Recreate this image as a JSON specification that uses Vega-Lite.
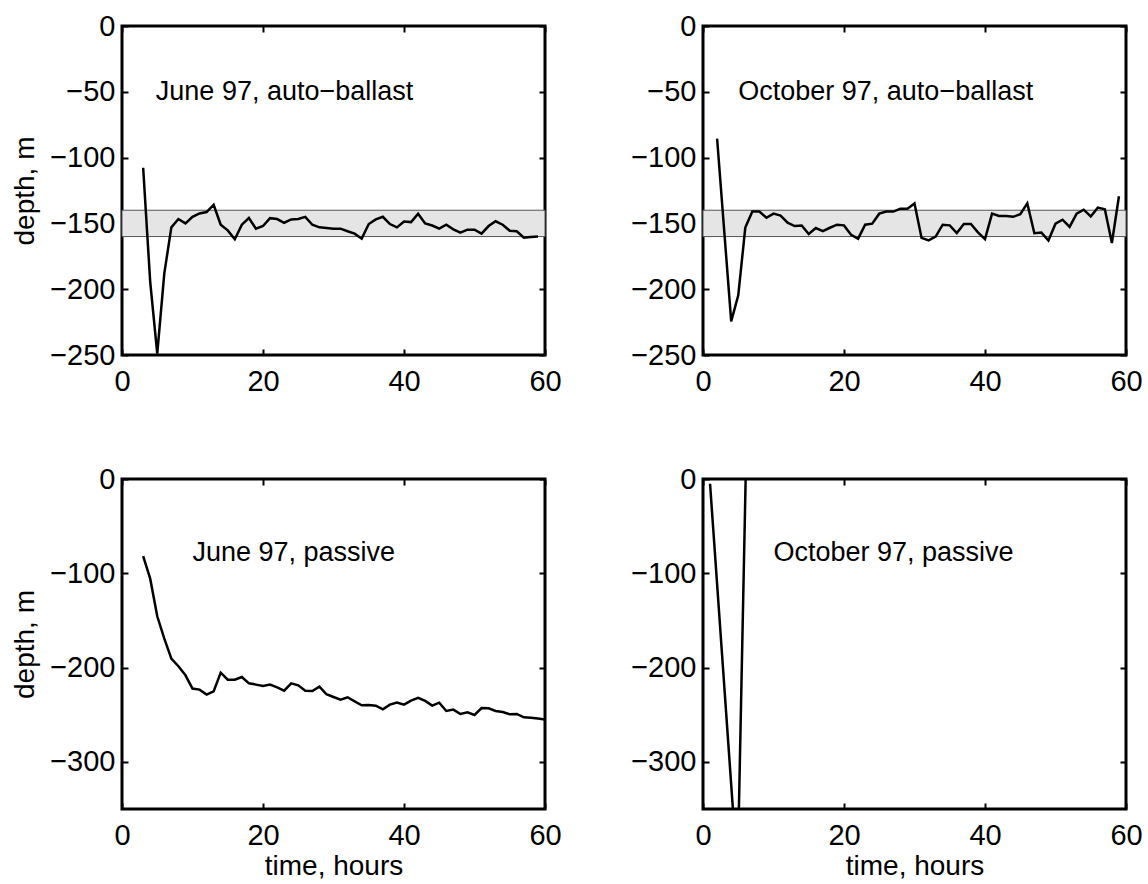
{
  "$schema": "https://vega.github.io/schema/vega-lite/v6.json",
  "background": "white",
  "padding": {"left": 10, "top": 10, "right": 5, "bottom": 5},
  "datasets": {
    "ja": [
      {"t":3,"d":-107.7},{"t":4,"d":-194.5},{"t":5,"d":-249},{"t":6,"d":-188},{"t":7,"d":-153},{"t":8,"d":-146.7},{"t":9,"d":-150},{"t":10,"d":-145},{"t":11,"d":-142.4},{"t":12,"d":-141.4},{"t":13,"d":-135.8},{"t":14,"d":-151},{"t":15,"d":-155.3},{"t":16,"d":-162},{"t":17,"d":-151},{"t":18,"d":-145.9},{"t":19,"d":-154},{"t":20,"d":-152},{"t":21,"d":-146},{"t":22,"d":-146.7},{"t":23,"d":-149.5},{"t":24,"d":-147},{"t":25,"d":-146.7},{"t":26,"d":-145},{"t":27,"d":-151},{"t":28,"d":-153},{"t":29,"d":-153.5},{"t":30,"d":-154},{"t":31,"d":-154},{"t":32,"d":-156},{"t":33,"d":-157.8},{"t":34,"d":-161.6},{"t":35,"d":-150.5},{"t":36,"d":-147},{"t":37,"d":-145},{"t":38,"d":-150.5},{"t":39,"d":-153},{"t":40,"d":-148.5},{"t":41,"d":-149},{"t":42,"d":-142.6},{"t":43,"d":-150},{"t":44,"d":-151.6},{"t":45,"d":-154},{"t":46,"d":-151},{"t":47,"d":-154.5},{"t":48,"d":-157},{"t":49,"d":-154.8},{"t":50,"d":-154.8},{"t":51,"d":-157.8},{"t":52,"d":-152},{"t":53,"d":-148.4},{"t":54,"d":-151},{"t":55,"d":-155.6},{"t":56,"d":-156},{"t":57,"d":-160.8},{"t":58,"d":-160.4},{"t":59,"d":-160}
    ],
    "oa": [
      {"t":2,"d":-85.6},{"t":3,"d":-155},{"t":4,"d":-224.4},{"t":5,"d":-204.7},{"t":6,"d":-153.2},{"t":7,"d":-141},{"t":8,"d":-141},{"t":9,"d":-145.7},{"t":10,"d":-142.6},{"t":11,"d":-144},{"t":12,"d":-149.5},{"t":13,"d":-152},{"t":14,"d":-151.6},{"t":15,"d":-158},{"t":16,"d":-153.5},{"t":17,"d":-155.8},{"t":18,"d":-153.3},{"t":19,"d":-151},{"t":20,"d":-151.5},{"t":21,"d":-158.6},{"t":22,"d":-161.6},{"t":23,"d":-151},{"t":24,"d":-150.2},{"t":25,"d":-142.6},{"t":26,"d":-141},{"t":27,"d":-141},{"t":28,"d":-138.8},{"t":29,"d":-138.8},{"t":30,"d":-134.8},{"t":31,"d":-161},{"t":32,"d":-162.9},{"t":33,"d":-160},{"t":34,"d":-151},{"t":35,"d":-151.5},{"t":36,"d":-157.3},{"t":37,"d":-150.5},{"t":38,"d":-150.5},{"t":39,"d":-156.8},{"t":40,"d":-162},{"t":41,"d":-142.6},{"t":42,"d":-144.4},{"t":43,"d":-144.4},{"t":44,"d":-145},{"t":45,"d":-143},{"t":46,"d":-134.8},{"t":47,"d":-157.5},{"t":48,"d":-157},{"t":49,"d":-163},{"t":50,"d":-150.2},{"t":51,"d":-147.2},{"t":52,"d":-152.7},{"t":53,"d":-142.6},{"t":54,"d":-139.6},{"t":55,"d":-144.7},{"t":56,"d":-138},{"t":57,"d":-139.3},{"t":58,"d":-164.9},{"t":59,"d":-129.4}
    ],
    "jp": [
      {"t":3,"d":-81.7},{"t":4,"d":-105.7},{"t":5,"d":-145.6},{"t":6,"d":-169.3},{"t":7,"d":-190.5},{"t":8,"d":-198.6},{"t":9,"d":-208.2},{"t":10,"d":-222.3},{"t":11,"d":-223.4},{"t":12,"d":-228.7},{"t":13,"d":-225.2},{"t":14,"d":-205.4},{"t":15,"d":-212.8},{"t":16,"d":-212.8},{"t":17,"d":-210},{"t":18,"d":-216.7},{"t":19,"d":-218.1},{"t":20,"d":-219.5},{"t":21,"d":-218.1},{"t":22,"d":-221},{"t":23,"d":-224.5},{"t":24,"d":-216.7},{"t":25,"d":-218.8},{"t":26,"d":-224.5},{"t":27,"d":-224.8},{"t":28,"d":-220.2},{"t":29,"d":-228.3},{"t":30,"d":-231.2},{"t":31,"d":-234},{"t":32,"d":-231.5},{"t":33,"d":-235.8},{"t":34,"d":-240},{"t":35,"d":-239.6},{"t":36,"d":-240.4},{"t":37,"d":-244.3},{"t":38,"d":-239.3},{"t":39,"d":-237.2},{"t":40,"d":-239.3},{"t":41,"d":-235},{"t":42,"d":-232.2},{"t":43,"d":-235.4},{"t":44,"d":-240.4},{"t":45,"d":-237.2},{"t":46,"d":-246},{"t":47,"d":-244.6},{"t":48,"d":-249.2},{"t":49,"d":-247.5},{"t":50,"d":-250.3},{"t":51,"d":-242.9},{"t":52,"d":-243.2},{"t":53,"d":-246},{"t":54,"d":-247.1},{"t":55,"d":-249.6},{"t":56,"d":-249.2},{"t":57,"d":-252.8},{"t":58,"d":-253.1},{"t":59,"d":-254.1},{"t":60,"d":-255}
    ],
    "op": [
      {"t":1,"d":-5},{"t":4.9,"d":-420},{"t":6.05,"d":0}
    ],
    "band": [
      {"t0":0,"t1":60,"lo":-160,"hi":-140}
    ],
    "one": [{}]
  },
  "columns": 2,
  "spacing": {"row": 124, "column": 158},
  "bounds": "flush",
  "concat": [
    {
      "width": 423, "height": 329,
      "layer": [
        {"data": {"name": "band"}, "mark": {"type": "rect", "fill": "#e5e5e5", "stroke": "#555555", "strokeWidth": 1},
         "encoding": {"x": {"field": "t0", "type": "quantitative", "axis": null, "scale": {"domain": [0, 60], "nice": false}}, "x2": {"field": "t1"},
                      "y": {"field": "lo", "type": "quantitative", "axis": null, "scale": {"domain": [-250, 0], "nice": false}}, "y2": {"field": "hi"}}},
        {"data": {"name": "ja"}, "mark": {"type": "line", "color": "black", "strokeWidth": 2.5, "clip": true},
         "encoding": {"x": {"field": "t", "type": "quantitative", "scale": {"domain": [0, 60], "nice": false}, "axis": {"values": [0, 20, 40, 60], "title": null}},
                      "y": {"field": "d", "type": "quantitative", "scale": {"domain": [-250, 0], "nice": false}, "axis": {"values": [0, -50, -100, -150, -200, -250], "title": "depth, m"}}}},
        {"data": {"name": "one"}, "mark": {"type": "text", "align": "left", "baseline": "alphabetic", "font": "Liberation Sans", "fontSize": 27, "color": "black"},
         "encoding": {"x": {"datum": 4.8, "type": "quantitative", "axis": null}, "y": {"datum": -56, "type": "quantitative", "axis": null}, "text": {"value": "June 97, auto−ballast"}}},
        {"data": {"name": "ja"}, "mark": {"type": "line", "opacity": 0},
         "encoding": {"x": {"field": "t", "type": "quantitative", "axis": {"orient": "top", "values": [0, 20, 40, 60], "labels": false, "title": null}},
                      "y": {"field": "d", "type": "quantitative", "axis": {"orient": "right", "values": [0, -50, -100, -150, -200, -250], "labels": false, "title": null}}}}
      ],
      "resolve": {"axis": {"x": "independent", "y": "independent"}}
    },
    {
      "width": 423, "height": 329,
      "layer": [
        {"data": {"name": "band"}, "mark": {"type": "rect", "fill": "#e5e5e5", "stroke": "#555555", "strokeWidth": 1},
         "encoding": {"x": {"field": "t0", "type": "quantitative", "axis": null, "scale": {"domain": [0, 60], "nice": false}}, "x2": {"field": "t1"},
                      "y": {"field": "lo", "type": "quantitative", "axis": null, "scale": {"domain": [-250, 0], "nice": false}}, "y2": {"field": "hi"}}},
        {"data": {"name": "oa"}, "mark": {"type": "line", "color": "black", "strokeWidth": 2.5, "clip": true},
         "encoding": {"x": {"field": "t", "type": "quantitative", "scale": {"domain": [0, 60], "nice": false}, "axis": {"values": [0, 20, 40, 60], "title": null}},
                      "y": {"field": "d", "type": "quantitative", "scale": {"domain": [-250, 0], "nice": false}, "axis": {"values": [0, -50, -100, -150, -200, -250], "title": null}}}},
        {"data": {"name": "one"}, "mark": {"type": "text", "align": "left", "baseline": "alphabetic", "font": "Liberation Sans", "fontSize": 27, "color": "black"},
         "encoding": {"x": {"datum": 5, "type": "quantitative", "axis": null}, "y": {"datum": -56, "type": "quantitative", "axis": null}, "text": {"value": "October 97, auto−ballast"}}},
        {"data": {"name": "oa"}, "mark": {"type": "line", "opacity": 0},
         "encoding": {"x": {"field": "t", "type": "quantitative", "axis": {"orient": "top", "values": [0, 20, 40, 60], "labels": false, "title": null}},
                      "y": {"field": "d", "type": "quantitative", "axis": {"orient": "right", "values": [0, -50, -100, -150, -200, -250], "labels": false, "title": null}}}}
      ],
      "resolve": {"axis": {"x": "independent", "y": "independent"}}
    },
    {
      "width": 423, "height": 330,
      "layer": [
        {"data": {"name": "jp"}, "mark": {"type": "line", "color": "black", "strokeWidth": 2.5, "clip": true},
         "encoding": {"x": {"field": "t", "type": "quantitative", "scale": {"domain": [0, 60], "nice": false}, "axis": {"values": [0, 20, 40, 60], "title": "time, hours"}},
                      "y": {"field": "d", "type": "quantitative", "scale": {"domain": [-350, 0], "nice": false}, "axis": {"values": [0, -100, -200, -300], "title": "depth, m"}}}},
        {"data": {"name": "one"}, "mark": {"type": "text", "align": "left", "baseline": "alphabetic", "font": "Liberation Sans", "fontSize": 27, "color": "black"},
         "encoding": {"x": {"datum": 10, "type": "quantitative", "axis": null}, "y": {"datum": -87, "type": "quantitative", "axis": null}, "text": {"value": "June 97, passive"}}},
        {"data": {"name": "jp"}, "mark": {"type": "line", "opacity": 0},
         "encoding": {"x": {"field": "t", "type": "quantitative", "axis": {"orient": "top", "values": [0, 20, 40, 60], "labels": false, "title": null}},
                      "y": {"field": "d", "type": "quantitative", "axis": {"orient": "right", "values": [0, -100, -200, -300], "labels": false, "title": null}}}}
      ],
      "resolve": {"axis": {"x": "independent", "y": "independent"}}
    },
    {
      "width": 423, "height": 330,
      "layer": [
        {"data": {"name": "op"}, "mark": {"type": "line", "color": "black", "strokeWidth": 2.5, "clip": true},
         "encoding": {"x": {"field": "t", "type": "quantitative", "scale": {"domain": [0, 60], "nice": false}, "axis": {"values": [0, 20, 40, 60], "title": "time, hours"}},
                      "y": {"field": "d", "type": "quantitative", "scale": {"domain": [-350, 0], "nice": false}, "axis": {"values": [0, -100, -200, -300], "title": null}}}},
        {"data": {"name": "one"}, "mark": {"type": "text", "align": "left", "baseline": "alphabetic", "font": "Liberation Sans", "fontSize": 27, "color": "black"},
         "encoding": {"x": {"datum": 10, "type": "quantitative", "axis": null}, "y": {"datum": -87, "type": "quantitative", "axis": null}, "text": {"value": "October 97, passive"}}},
        {"data": {"name": "op"}, "mark": {"type": "line", "opacity": 0, "clip": true},
         "encoding": {"x": {"field": "t", "type": "quantitative", "axis": {"orient": "top", "values": [0, 20, 40, 60], "labels": false, "title": null}},
                      "y": {"field": "d", "type": "quantitative", "axis": {"orient": "right", "values": [0, -100, -200, -300], "labels": false, "title": null}}}}
      ],
      "resolve": {"axis": {"x": "independent", "y": "independent"}}
    }
  ],
  "config": {
    "view": {"stroke": "black", "strokeWidth": 3},
    "axis": {
      "domain": false, "grid": false,
      "tickColor": "black", "tickSize": -6, "tickWidth": 2,
      "labelFont": "Liberation Sans", "labelFontSize": 29, "labelColor": "black",
      "labelFlush": false, "labelOverlap": false,
      "titleFont": "Liberation Sans", "titleFontSize": 28, "titleFontWeight": "normal", "titleColor": "black"
    },
    "axisX": {"labelPadding": 18, "titlePadding": 2},
    "axisY": {"labelPadding": 13, "titlePadding": 10}
  }
}
